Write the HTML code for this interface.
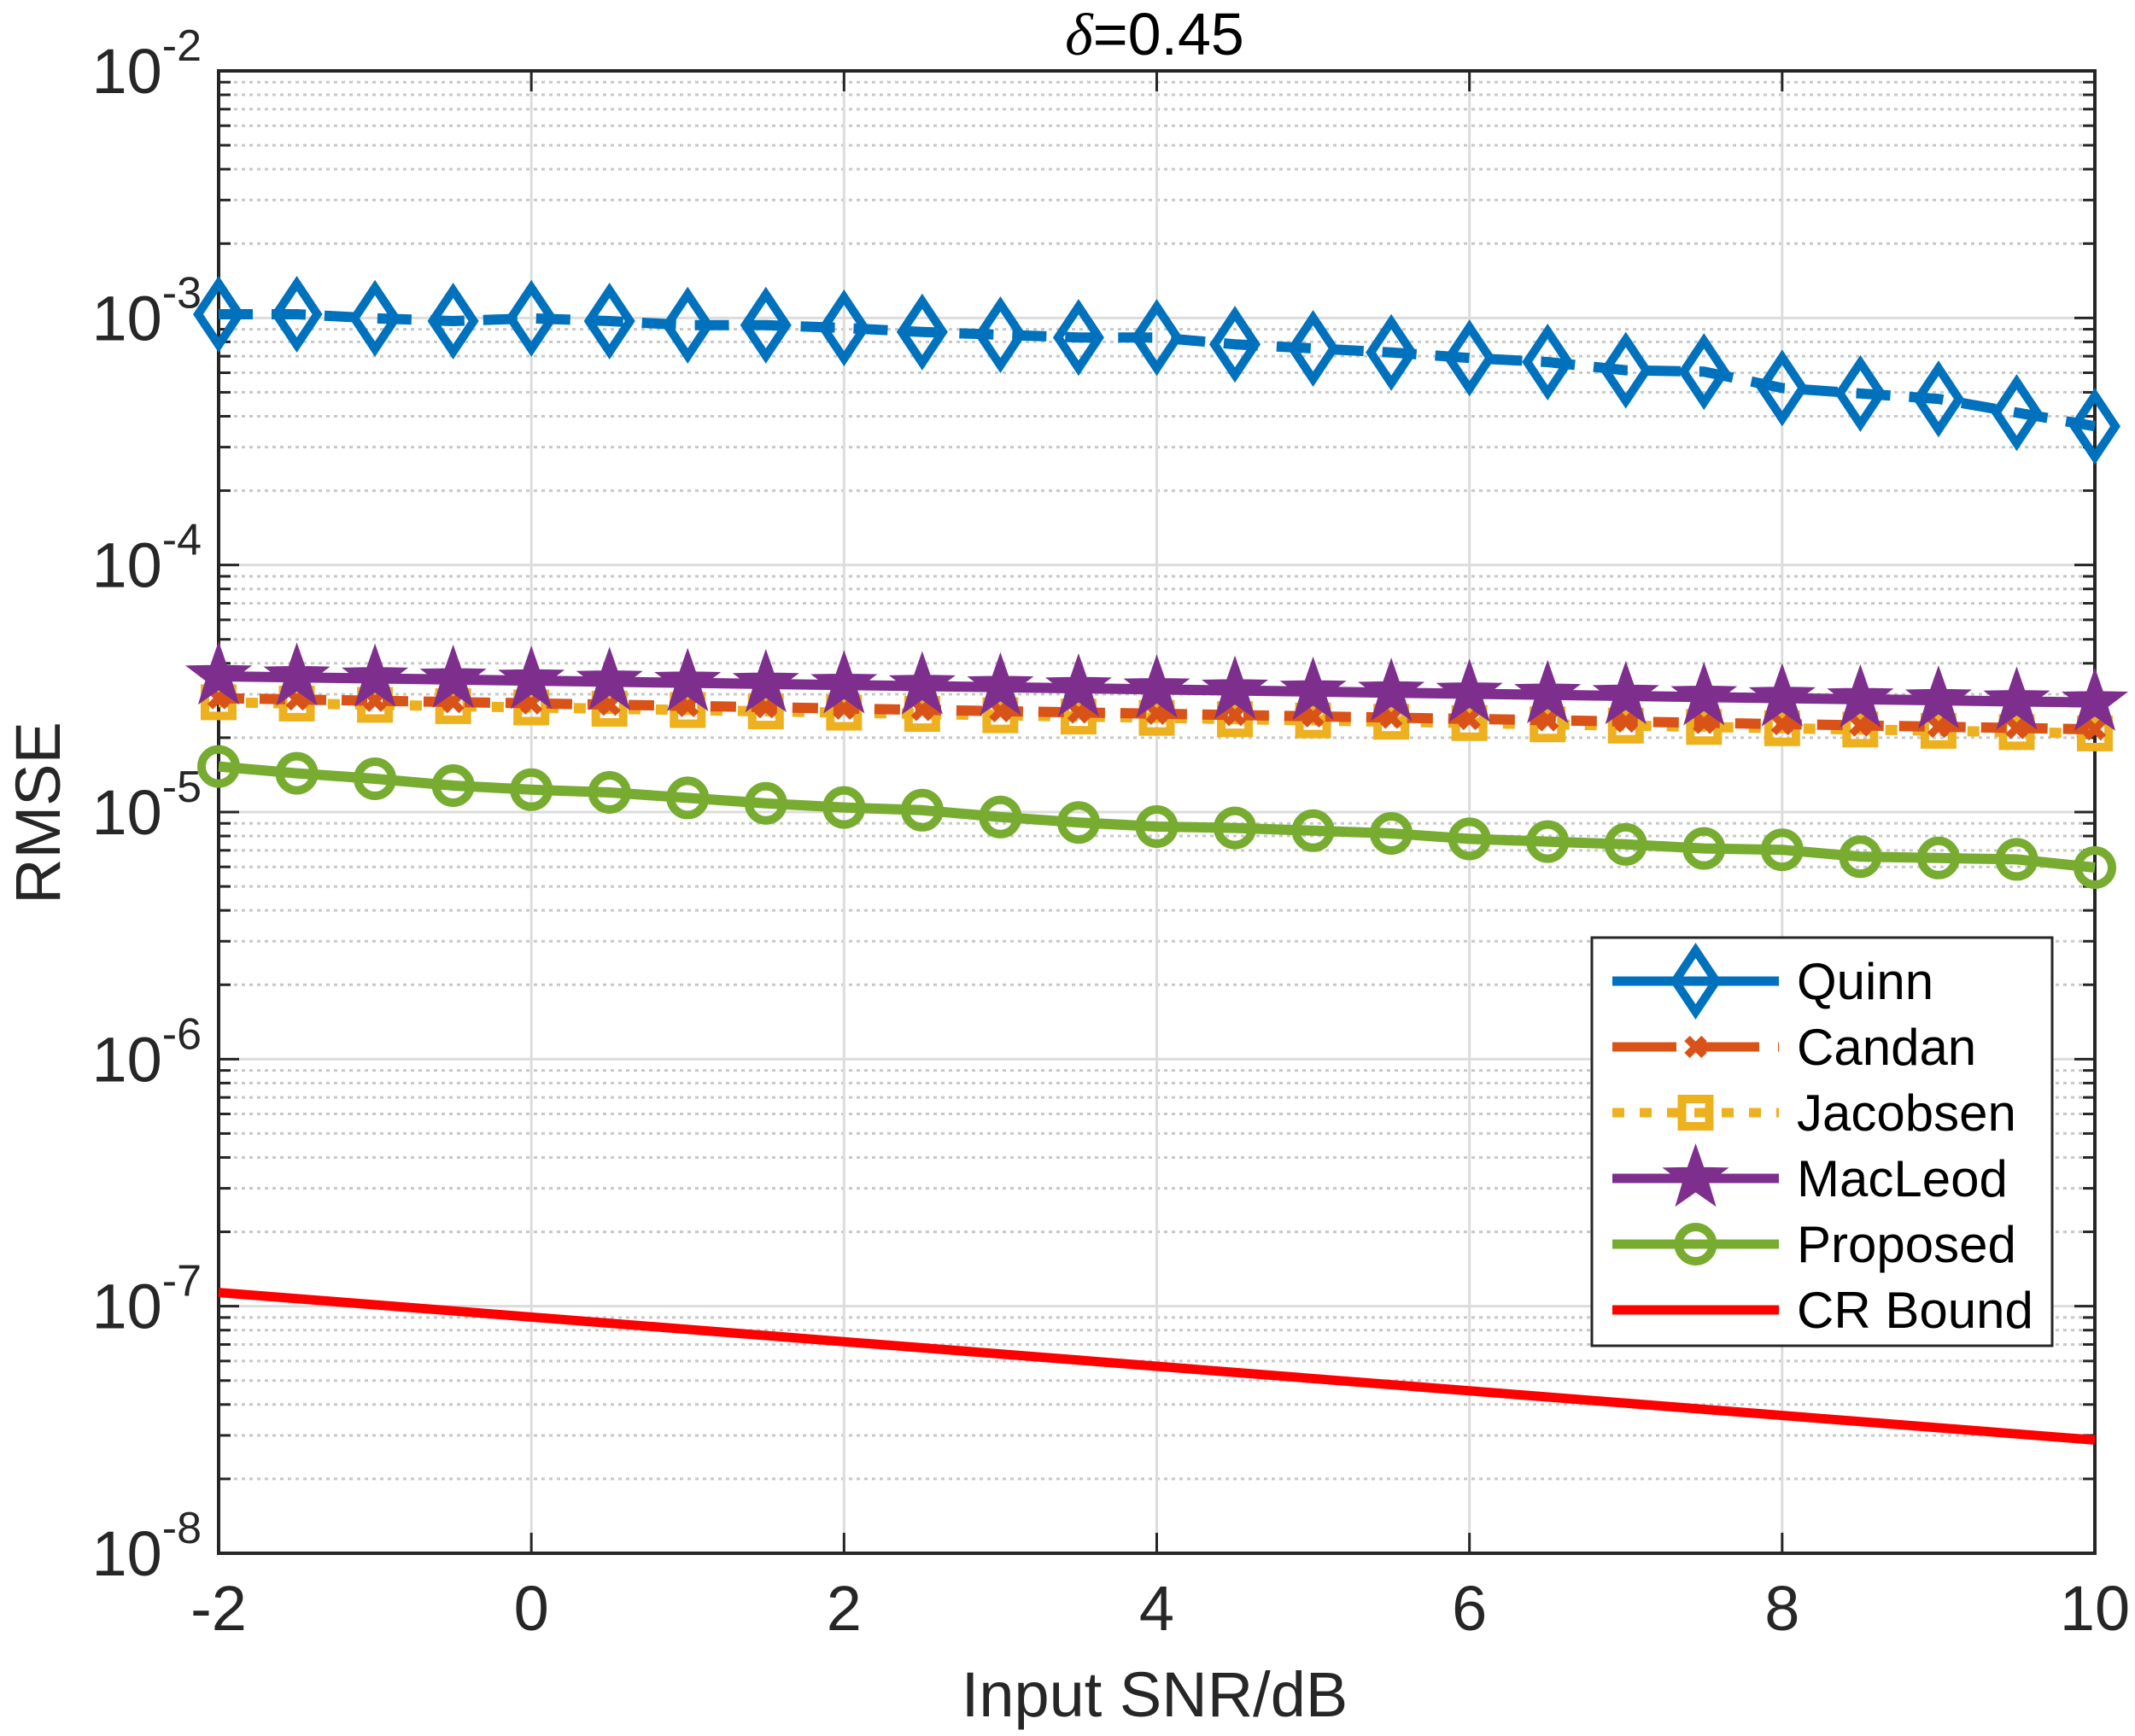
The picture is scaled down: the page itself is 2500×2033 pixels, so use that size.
<!DOCTYPE html>
<html><head><meta charset="utf-8"><style>
html,body{margin:0;padding:0;background:#fff;}
svg{display:block;}
text{font-family:"Liberation Sans",Arial,sans-serif;fill:#262626;}
</style></head><body>
<svg id="s" width="2500" height="2033" viewBox="0 0 2500 2033" xmlns="http://www.w3.org/2000/svg"></svg>
<script>
const S=document.getElementById('s');
const X0=256,X1=2453,Y0=83,Y1=1819,DEC=(Y1-Y0)/6;
const xp=v=>X0+(v+2)*(X1-X0)/12;
const yp=e=>Y0+(-2-e)*DEC;
let h='';
for(let d=-8;d<-2;d++){for(let k=2;k<=9;k++){const y=yp(d+Math.log10(k));
h+=`<line x1="${X0}" x2="${X1}" y1="${y}" y2="${y}" stroke="#c8c8c8" stroke-width="3" stroke-dasharray="4,5"/>`;
h+=`<line x1="${X0}" x2="${X0+14}" y1="${y}" y2="${y}" stroke="#262626" stroke-width="3"/><line x1="${X1-14}" x2="${X1}" y1="${y}" y2="${y}" stroke="#262626" stroke-width="3"/>`;}}
for(let d=-8;d<=-2;d++){const y=yp(d);
h+=`<line x1="${X0}" x2="${X1}" y1="${y}" y2="${y}" stroke="#dcdcdc" stroke-width="3"/>`;
h+=`<line x1="${X0}" x2="${X0+24}" y1="${y}" y2="${y}" stroke="#262626" stroke-width="3"/><line x1="${X1-24}" x2="${X1}" y1="${y}" y2="${y}" stroke="#262626" stroke-width="3"/>`;
h+=`<text x="${X0-20}" y="${y+26}" text-anchor="end" font-size="74">10<tspan dy="-38" font-size="52">${d}</tspan></text>`;}
for(let v=-2;v<=10;v+=2){const x=xp(v);
h+=`<line x1="${x}" x2="${x}" y1="${Y0}" y2="${Y1}" stroke="#dcdcdc" stroke-width="3"/>`;
h+=`<line x1="${x}" x2="${x}" y1="${Y1-24}" y2="${Y1}" stroke="#262626" stroke-width="3"/><line x1="${x}" x2="${x}" y1="${Y0}" y2="${Y0+24}" stroke="#262626" stroke-width="3"/>`;
h+=`<text x="${x}" y="${Y1+90}" text-anchor="middle" font-size="74">${v}</text>`;}
h+=`<rect x="${X0}" y="${Y0}" width="${X1-X0}" height="${Y1-Y0}" fill="none" stroke="#262626" stroke-width="4"/>`;
const xs=[];for(let i=0;i<25;i++)xs.push(-2+i*0.5);
const quinn=[230,230,233,235,233,235,238,238,240,243,245,247,247,252,255,258,262,265,271,272,284,288,292,302,312];
const mac=[];const can=[];const jac=[];
for(let i=0;i<25;i++){mac.push(495+i*0.8);can.push(511+i*0.95);jac.push(514+i*0.95);}
const prop=[561,566,570,575,578,580,584,588,591,593,598,602,605,606,608,610,614,616,618,621,622,627,628,629,635];
function pts(a){return a.map((y,i)=>[xp(xs[i]),y*1.6]);}
function path(p,col,w,dash){return `<polyline points="${p.map(q=>q.join(',')).join(' ')}" fill="none" stroke="${col}" stroke-width="${w}" stroke-linejoin="round" ${dash?`stroke-dasharray="${dash}"`:''}/>`;}
function diamond(x,y,c){return `<polygon points="${x},${y-36} ${x+24},${y} ${x},${y+36} ${x-24},${y}" fill="none" stroke="${c}" stroke-width="10"/>`;}
function cross(x,y,c){return `<path d="M${x-10},${y-10}L${x+10},${y+10}M${x+10},${y-10}L${x-10},${y+10}" stroke="${c}" stroke-width="9"/>`;}
function sq(x,y,c){return `<rect x="${x-16}" y="${y-16}" width="32" height="32" fill="none" stroke="${c}" stroke-width="10"/>`;}
function star(x,y,c,r){r=r||38;let s='';for(let k=0;k<10;k++){const rr=k%2?r*0.4:r;const a=-Math.PI/2+k*Math.PI/5;s+=`${x+rr*Math.cos(a)},${y+rr*Math.sin(a)} `;}return `<polygon points="${s}" fill="${c}" stroke="${c}" stroke-width="2"/>`;}
function circ(x,y,c){return `<circle cx="${x}" cy="${y}" r="20" fill="none" stroke="${c}" stroke-width="10"/>`;}
const BL='#0072BD',OR='#D95319',YE='#EDB120',PU='#7E2F8E',GR='#77AC30';
h+=`<line x1="${X0}" y1="${946*1.6}" x2="${X1}" y2="${1054*1.6}" stroke="#ff0000" stroke-width="11"/>`;
let p=pts(prop);h+=path(p,GR,12);p.forEach(q=>h+=circ(q[0],q[1],GR));
p=pts(jac);h+=path(p,YE,12,'14,18');p.forEach(q=>h+=sq(q[0],q[1],YE));
p=pts(can);h+=path(p,OR,12,'30,18');p.forEach(q=>h+=cross(q[0],q[1],OR));
p=pts(mac);h+=path(p,PU,12);p.forEach(q=>h+=star(q[0],q[1],PU));
p=pts(quinn);h+=path(p,BL,12,'40,22');p.forEach(q=>h+=diamond(q[0],q[1],BL));
const LX=1864,LY=1098,LW=539,LH=478;
h+=`<rect x="${LX}" y="${LY}" width="${LW}" height="${LH}" fill="#fff" stroke="#262626" stroke-width="3"/>`;
const names=['Quinn','Candan','Jacobsen','MacLeod','Proposed','CR Bound'];
const cols=[BL,OR,YE,PU,GR,'#ff0000'];
for(let i=0;i<6;i++){const y=LY+51+i*77;const a=LX+24,b=LX+219,m=(a+b)/2;
h+=path([[a,y],[b,y]],cols[i],11,i==1?'75,22':(i==2?'14,18':''));
if(i==0)h+=diamond(m,y,BL);if(i==1)h+=cross(m,y,OR);if(i==2)h+=sq(m,y,YE);if(i==3)h+=star(m,y,PU);if(i==4)h+=circ(m,y,GR);
h+=`<text x="${LX+240}" y="${y+21}" font-size="60" style="fill:#000">${names[i]}</text>`;}
h+=`<text x="1352" y="64" text-anchor="middle" font-size="70" style="fill:#000"><tspan font-style="italic" font-family="Liberation Serif,serif">δ</tspan>=0.45</text>`;
h+=`<text x="1352" y="2010" text-anchor="middle" font-size="74">Input SNR/dB</text>`;
h+=`<text transform="translate(70,952) rotate(-90)" text-anchor="middle" font-size="74">RMSE</text>`;
S.innerHTML=h;
</script>
</body></html>
